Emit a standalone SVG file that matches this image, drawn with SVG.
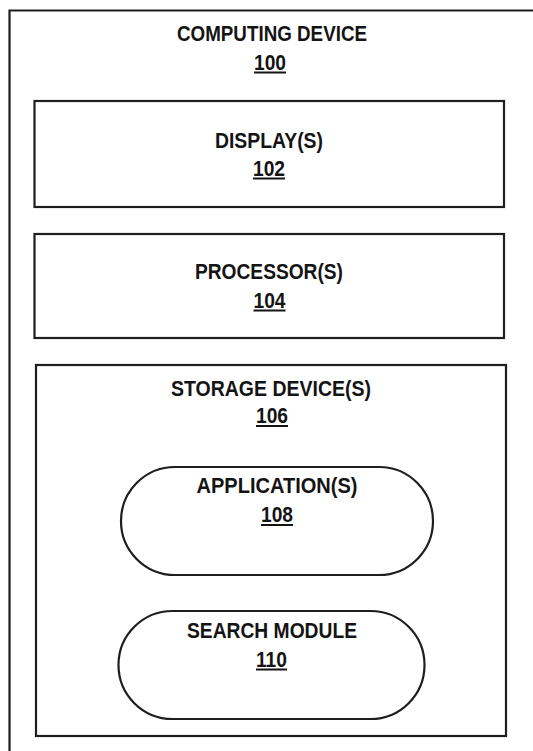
<svg xmlns="http://www.w3.org/2000/svg" width="533" height="751" viewBox="0 0 533 751">
  <style>
    .box { fill: none; stroke: #1e1e1e; stroke-width: 2.2; }
    .lbl { font-family: "Liberation Sans", Arial, sans-serif; font-size: 22.5px; font-weight: bold; fill: #141414; text-anchor: middle; }
    .ul { stroke: #141414; stroke-width: 2; }
  </style>
  <rect x="0" y="0" width="533" height="751" fill="#ffffff"/>

  <!-- outer device frame, runs off the right and bottom edges -->
  <g id="computing-device">
    <path class="box" d="M9.5 751 V10.5 H540"/>
    <text class="lbl" x="272" y="40.5" textLength="190" lengthAdjust="spacingAndGlyphs">COMPUTING DEVICE</text>
    <text class="lbl" x="270" y="69.5" textLength="32" lengthAdjust="spacingAndGlyphs">100</text>
    <line class="ul" x1="254" y1="72.5" x2="286" y2="72.5"/>
  </g>

  <g id="displays">
    <rect class="box" x="34.5" y="101" width="469.5" height="106"/>
    <text class="lbl" x="269" y="148" textLength="108" lengthAdjust="spacingAndGlyphs">DISPLAY(S)</text>
    <text class="lbl" x="269" y="175.5" textLength="32" lengthAdjust="spacingAndGlyphs">102</text>
    <line class="ul" x1="253" y1="178.5" x2="285" y2="178.5"/>
  </g>

  <g id="processors">
    <rect class="box" x="34.5" y="234" width="469.5" height="104"/>
    <text class="lbl" x="269" y="279" textLength="148" lengthAdjust="spacingAndGlyphs">PROCESSOR(S)</text>
    <text class="lbl" x="269.5" y="307.5" textLength="32" lengthAdjust="spacingAndGlyphs">104</text>
    <line class="ul" x1="253.5" y1="310.5" x2="285.5" y2="310.5"/>
  </g>

  <g id="storage-devices">
    <rect class="box" x="36" y="365" width="470" height="371"/>
    <text class="lbl" x="271" y="396" textLength="200" lengthAdjust="spacingAndGlyphs">STORAGE DEVICE(S)</text>
    <text class="lbl" x="272" y="423" textLength="32" lengthAdjust="spacingAndGlyphs">106</text>
    <line class="ul" x1="256" y1="426" x2="288" y2="426"/>
  </g>

  <g id="applications">
    <rect class="box" x="121" y="467" width="312" height="108" rx="54" ry="54"/>
    <text class="lbl" x="277" y="493" textLength="161" lengthAdjust="spacingAndGlyphs">APPLICATION(S)</text>
    <text class="lbl" x="277" y="521.5" textLength="32" lengthAdjust="spacingAndGlyphs">108</text>
    <line class="ul" x1="261" y1="525" x2="293" y2="525"/>
  </g>

  <g id="search-module">
    <rect class="box" x="118.5" y="611" width="306" height="108" rx="54" ry="54"/>
    <text class="lbl" x="272" y="638" textLength="170" lengthAdjust="spacingAndGlyphs">SEARCH MODULE</text>
    <text class="lbl" x="271.5" y="666.5" textLength="31" lengthAdjust="spacingAndGlyphs">110</text>
    <line class="ul" x1="256" y1="669.5" x2="287" y2="669.5"/>
  </g>

  <!-- no connectors in this block diagram -->
  <g id="connectors"/>
</svg>
